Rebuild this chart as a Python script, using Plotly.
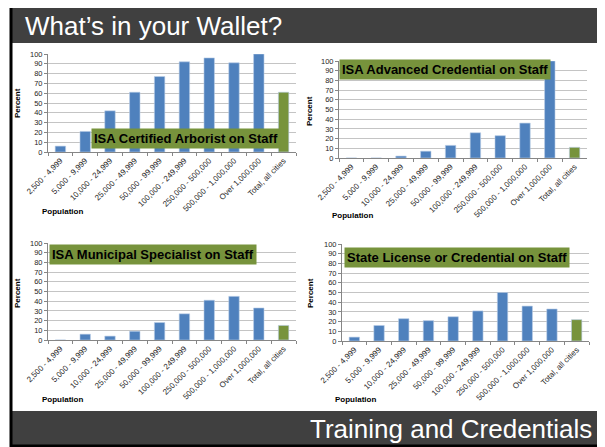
import plotly.graph_objects as go

W, H = 605, 447
OFF = 8  # the page body adds an 8px margin; positions below are page pixels

categories = ["2,500 - 4,999", "5,000 - 9,999", "10,000 - 24,999", "25,000 - 49,999",
              "50,000 - 99,999", "100,000 - 249,999", "250,000 - 500,000",
              "500,000 - 1,000,000", "Over 1,000,000", "Total, all cities"]

arborist = [6, 21, 42, 61, 77, 92, 96, 91, 100, 61]
advanced = [0, 0, 2, 7, 13, 26, 23, 36, 100, 11]
municipal = [0, 6, 4, 9, 18, 27, 41, 45, 33, 15]
state_license = [4, 16, 23, 21, 25, 31, 50, 36, 33, 22]

titles = ["ISA Certified Arborist on Staff", "ISA Advanced Credential on Staff",
          "ISA Municipal Specialist on Staff", "State License or Credential on Staff"]

BLUE = "#4f81bd"
GREEN = "#77933c"
FONT = "Liberation Sans, Arial, sans-serif"


def px_x(p):
    return (p - OFF) / W


def px_y(p):
    return 1 - (p - OFF) / H


# (x0, x1, ytop, ybottom) of each plot area, in pixels
panels = [
    (48, 296, 54, 152),
    (339, 587, 61, 158),
    (48, 296, 243, 340),
    (342, 589, 244, 341),
]
# label box top-left corner, "Percent" centre, "Population" centre
label_pos = [(91, 128), (339, 59), (49, 244), (344, 247)]
percent_pos = [(17, 103), (309, 111), (17, 293), (310, 293)]
population_pos = [(62, 211), (352, 216), (62, 399), (356, 399)]

series = [arborist, advanced, municipal, state_license]

fig = go.Figure()
layout = {}
annotations = []
for i, (vals, (x0, x1, yt, yb)) in enumerate(zip(series, panels)):
    n = "" if i == 0 else str(i + 1)
    colors = [BLUE] * (len(categories) - 1) + [GREEN]
    fig.add_trace(go.Bar(x=categories, y=vals, marker=dict(color=colors, line=dict(color="#b9cde5", width=0.6)),
                         xaxis="x" + n, yaxis="y" + n, showlegend=False))
    layout["xaxis" + n] = dict(
        domain=[px_x(x0), px_x(x1)], anchor="y" + n, type="category", automargin=False,
        tickangle=-45, tickfont=dict(size=8, color="#262626"),
        showline=True, linecolor="#868686", linewidth=1,
        ticks="outside", tickson="boundaries", ticklen=3, tickcolor="#868686",
        showgrid=False,
    )
    layout["yaxis" + n] = dict(
        domain=[px_y(yb), px_y(yt)], anchor="x" + n, range=[0, 100], automargin=False,
        dtick=10, tickfont=dict(size=7.5, color="#262626"),
        showline=True, linecolor="#868686", linewidth=1,
        ticks="outside", ticklen=3, tickcolor="#868686",
        gridcolor="#c4c4c4", gridwidth=1, zeroline=False,
    )
    lx, ly = label_pos[i]
    annotations.append(dict(
        text="<b>" + titles[i] + "</b>", x=px_x(lx), y=px_y(ly), xref="paper", yref="paper",
        xanchor="left", yanchor="top", showarrow=False, bgcolor=GREEN, borderpad=2,
        font=dict(size=13, color="#000000", family=FONT),
    ))
    ppx, ppy = percent_pos[i]
    annotations.append(dict(
        text="<b>Percent</b>", x=px_x(ppx), y=px_y(ppy), xref="paper", yref="paper",
        xanchor="center", yanchor="middle",
        textangle=-90, showarrow=False, font=dict(size=8, color="#000000", family=FONT),
    ))
    pox, poy = population_pos[i]
    annotations.append(dict(
        text="<b>Population</b>", x=px_x(pox), y=px_y(poy), xref="paper", yref="paper",
        xanchor="center", yanchor="middle",
        showarrow=False, font=dict(size=8, color="#000000", family=FONT),
    ))

annotations.append(dict(
    text="What\u2019s in your Wallet?", x=px_x(23), y=px_y(26), xref="paper", yref="paper",
    xanchor="left", yanchor="middle", showarrow=False,
    font=dict(size=26, color="#ffffff", family=FONT),
))
annotations.append(dict(
    text="Training and Credentials", x=px_x(594), y=px_y(429), xref="paper", yref="paper",
    xanchor="right", yanchor="middle", showarrow=False,
    font=dict(size=26, color="#ffffff", family=FONT),
))

shapes = [
    dict(type="rect", xref="paper", yref="paper", x0=px_x(11), x1=px_x(599), y0=px_y(446), y1=px_y(5),
         line=dict(color="#000000", width=3), fillcolor="rgba(0,0,0,0)", layer="above"),
    dict(type="rect", xref="paper", yref="paper", x0=px_x(12), x1=px_x(598), y0=px_y(43), y1=px_y(6),
         line=dict(width=0), fillcolor="#404040", layer="below"),
    dict(type="rect", xref="paper", yref="paper", x0=px_x(12), x1=px_x(598), y0=px_y(445), y1=px_y(411),
         line=dict(width=0), fillcolor="#404040", layer="below"),
]

fig.update_layout(
    **layout,
    width=W, height=H,
    margin=dict(l=0, r=0, t=0, b=0, pad=0),
    paper_bgcolor="#ffffff", plot_bgcolor="#ffffff",
    font=dict(family=FONT, color="#262626"),
    bargap=0.58,
    annotations=annotations,
    shapes=shapes,
)

fig.write_html("out.html")
